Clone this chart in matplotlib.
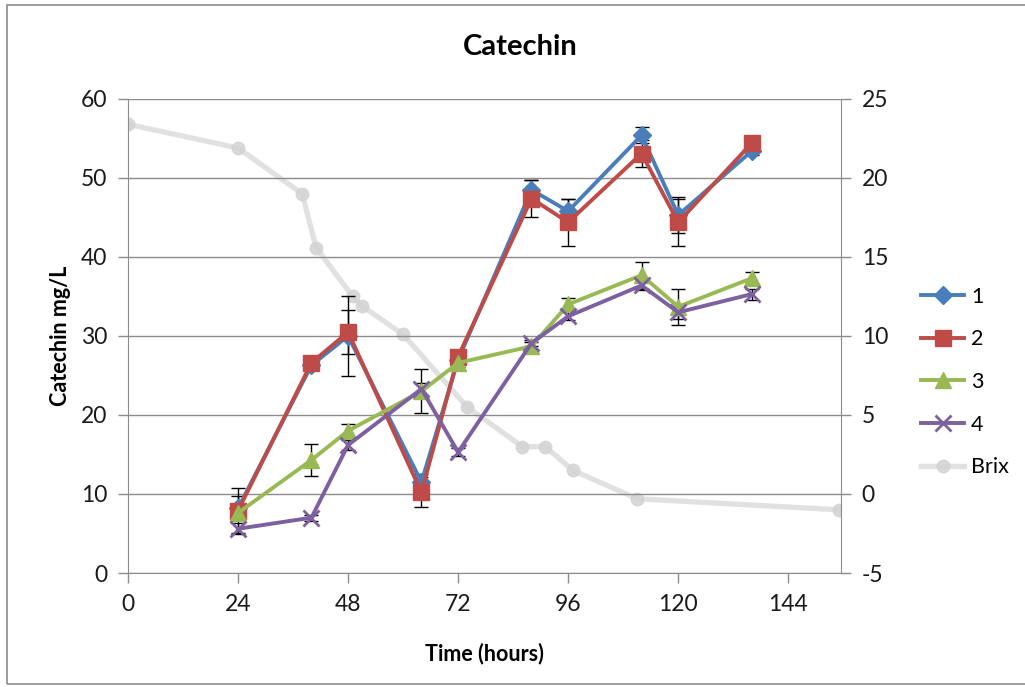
import matplotlib
matplotlib.use("Agg")
import matplotlib.pyplot as plt
from matplotlib.patches import Rectangle

plt.rcParams['font.family'] = ['Lato', 'DejaVu Sans']
plt.rcParams['axes.unicode_minus'] = False

# Sampling times (hours) for the catechin measurements
time_h = [24, 40, 48, 64, 72, 88, 96, 112, 120, 136]

# Catechin (mg/L) per treatment, with error bar half-widths
cat_1 = [8.2, 26.3, 30.0, 11.5, 27.0, 48.5, 45.8, 55.4, 45.3, 53.4]
err_1 = [1.5, 0.5, 5.0, 1.0, 0.5, 1.2, 1.5, 1.0, 2.3, 0.5]
cat_2 = [7.9, 26.6, 30.5, 10.2, 27.4, 47.4, 44.4, 53.1, 44.4, 54.4]
err_2 = [2.8, 0.4, 2.8, 1.9, 0.5, 2.3, 3.0, 1.7, 3.0, 0.5]
cat_3 = [7.6, 14.3, 18.0, 23.0, 26.6, 28.7, 34.0, 37.7, 33.7, 37.3]
err_3 = [0.8, 2.0, 0.8, 2.8, 0.5, 0.5, 0.8, 1.7, 2.3, 0.8]
cat_4 = [5.6, 7.0, 16.2, 23.3, 15.3, 29.1, 32.5, 36.4, 33.0, 35.3]
err_4 = [0.7, 0.4, 0.6, 0.8, 0.5, 0.4, 0.5, 0.6, 0.8, 0.7]

# Sugar content (Brix) over time, right axis
brix_t = [0, 24, 38, 41, 49, 51, 60, 74, 86, 91, 97, 111, 155]
brix_v = [23.4, 21.9, 19.0, 15.6, 12.5, 11.9, 10.1, 5.5, 3.0, 3.0, 1.5, -0.3, -1.0]

x_ticks = [0, 24, 48, 72, 96, 120, 144]
y_ticks = [0, 10, 20, 30, 40, 50, 60]
y2_ticks = [-5, 0, 5, 10, 15, 20, 25]

fig = plt.figure(figsize=(10.25, 6.87), dpi=100)
fig.patches.append(Rectangle((7 / 1025, 3 / 687), 1.2, (679) / 687,
                             transform=fig.transFigure, fill=False,
                             edgecolor='#8c8c8c', linewidth=1.2))

ax = fig.add_axes([128 / 1025, 1 - 573 / 687, (841 - 128) / 1025, (573 - 99) / 687])
ax2 = ax.twinx()
ax.set_zorder(ax2.get_zorder() + 1)
ax.patch.set_visible(False)

grid_c = '#8c8c8c'

# Brix on secondary axis
lb, = ax2.plot(brix_t, brix_v, color='#dcdcdc', lw=3.8, marker='o', ms=9,
               mfc='#d3d3d3', mec='#d3d3d3', alpha=0.85, label='Brix')
ax2.set_ylim(-5, 25)
ax2.set_yticks(y2_ticks)

series = [
    (cat_1, err_1, '#4a7ebb', 'D', 9, '1'),
    (cat_2, err_2, '#be4b48', 's', 12, '2'),
    (cat_3, err_3, '#98b954', '^', 12, '3'),
    (cat_4, err_4, '#7d60a0', 'x', 11, '4'),
]
handles = []
for vals, errs, col, mk, ms, lab in series:
    ax.errorbar(time_h, vals, yerr=errs, fmt='none', ecolor='black',
                elinewidth=1.0, capsize=5, capthick=1.0, zorder=2)
    mew = 2.0 if mk == 'x' else 1
    h, = ax.plot(time_h, vals, color=col, lw=2.8, marker=mk, ms=ms,
                 mfc=col, mec=col, mew=mew, label=lab, zorder=3)
    handles.append(h)
handles.append(lb)

ax.set_xlim(0, 155.5)
ax.set_ylim(0, 60)
ax.set_xticks(x_ticks)
ax.set_yticks(y_ticks)
ax.grid(axis='y', color=grid_c, lw=1.0)
ax.set_axisbelow(True)

for a in (ax, ax2):
    for s in a.spines.values():
        s.set_visible(False)
    a.tick_params(labelsize=16.5, colors=grid_c, labelcolor='#1a1a1a',
                  length=7, width=1.0)
ax.spines['left'].set_visible(True)
ax.spines['left'].set_color(grid_c)
ax.spines['bottom'].set_visible(True)
ax.spines['bottom'].set_color(grid_c)
ax2.spines['right'].set_visible(True)
ax2.spines['right'].set_color(grid_c)
ax.tick_params(axis='x', pad=8)
ax.tick_params(axis='y', pad=8)
ax2.tick_params(axis='y', pad=8)

ax.set_xlabel('Time (hours)', fontsize=15.5, fontweight='bold', labelpad=20)
ax.set_ylabel('Catechin mg/L', fontsize=15.5, fontweight='bold', labelpad=7)
fig.text(520 / 1025, 1 - 47 / 687, 'Catechin', fontsize=21, fontweight='bold',
         ha='center', va='center')

fig.legend(handles=handles, loc='center left', bbox_to_anchor=(902 / 1025, 1 - 382 / 687),
           frameon=False, fontsize=15.5, handlelength=2.0, labelspacing=1.05,
           handletextpad=0.3)

fig.savefig('out.png', dpi=100)
